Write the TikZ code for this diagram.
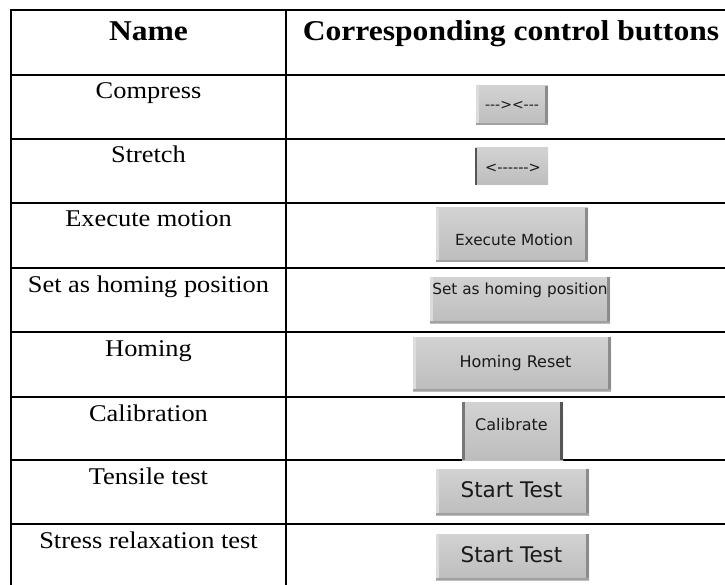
\documentclass[tikz,border=0pt]{standalone}
\usepackage{fontspec}
\setmainfont[FakeStretch=1.1]{Liberation Serif}
\newfontfamily\btnfont{DejaVu Sans}
\definecolor{btntop}{HTML}{D2D2D2}
\definecolor{btnbot}{HTML}{BDBDBD}
\definecolor{btnhi}{HTML}{DCDCDC}
\definecolor{btnsh}{HTML}{8C8C8C}
\definecolor{btnedge}{HTML}{555555}
\tikzset{
  rule/.style={line width=2.6pt, line cap=rect},
  head/.style={anchor=base, inner sep=0pt, font=\fontsize{28.7}{32}\selectfont\bfseries},
  cell/.style={anchor=base, inner sep=0pt, font=\fontsize{24}{28}\selectfont},
  btn/.style={rectangle, draw=none, inner sep=0pt, top color=btntop, bottom color=btnbot,
    path picture={
      \fill[btnhi] (path picture bounding box.north west) rectangle ([xshift=3pt]path picture bounding box.south west);
      \fill[btnsh] ([xshift=-3pt]path picture bounding box.north east) rectangle (path picture bounding box.south east);
      \fill[btnbot!85!black] ([yshift=2pt]path picture bounding box.south west) rectangle (path picture bounding box.south east);
    }},
  btnl/.style={rectangle, draw=none, inner sep=0pt, top color=btntop, bottom color=btnbot,
    path picture={
      \fill[btnedge] (path picture bounding box.north west) rectangle ([xshift=2pt]path picture bounding box.south west);
    }},
  btnlr/.style={rectangle, draw=none, inner sep=0pt, top color=btntop, bottom color=btnbot,
    path picture={
      \fill[btnedge!80] (path picture bounding box.north west) rectangle ([xshift=2.5pt]path picture bounding box.south west);
      \fill[btnedge] ([xshift=-3pt]path picture bounding box.north east) rectangle (path picture bounding box.south east);
    }},
  btext/.style={inner sep=0pt, text=black!90, font=\btnfont\fontsize{#1}{#1}\selectfont},
}
\begin{document}
\begin{tikzpicture}[x=1pt,y=-1pt]
\useasboundingbox (0,0) rectangle (725,585);
% grid coordinates
\coordinate (tl) at (11,10);
\coordinate (tr) at (725,10);
\coordinate (bl) at (11,585);
\coordinate (dt) at (286,10);
\coordinate (db) at (286,585);
\foreach \y/\n in {75/a,139/b,203/c,268/d,332/e,397/f,460/g,524/h}{
  \coordinate (l\n) at (11,\y);
  \coordinate (r\n) at (725,\y);
}
% rules
\draw[rule] (tl) -- (tr);
\draw[rule] (tl) -- (bl);
\draw[rule] (dt) -- (db);
\foreach \n in {a,b,c,d,e,f,g,h}{ \draw[rule] (l\n) -- (r\n); }
% header
\node[head] (hname) at (148.5,41) {Name};
\node[head] (hbtn) at (511,41) {Corresponding control buttons};
% names
\node[cell] (n1) at (148.5,99) {Compress};
\node[cell] (n2) at (148.5,163) {Stretch};
\node[cell] (n3) at (148.5,227) {Execute motion};
\node[cell] (n4) at (148.5,292) {Set as homing position};
\node[cell] (n5) at (148.5,356) {Homing};
\node[cell] (n6) at (148.5,421) {Calibration};
\node[cell] (n7) at (148.5,484) {Tensile test};
\node[cell] (n8) at (148.5,548) {Stress relaxation test};
% buttons
\node[btn, minimum width=72pt, minimum height=39pt] (b1) at (512,105.5) {};
\node[btext=14] (t1) at (512,105) {-{}-{}->{}<-{}-{}-};
\node[btnl, minimum width=73pt, minimum height=37pt] (b2) at (511.5,166.5) {};
\node[btext=14.5] (t2) at (513,168) {<-{}-{}-{}-{}-{}->};
\node[btn, minimum width=152pt, minimum height=54pt] (b3) at (512,235) {};
\node[btext=15.3] (t3) at (514,240) {Execute Motion};
\node[btn, minimum width=180pt, minimum height=46pt] (b4) at (520,300) {};
\node[btext=15.3] (t4) at (520,290) {Set as homing position};
\node[btn, minimum width=198pt, minimum height=54pt] (b5) at (512,364) {};
\node[btext=16] (t5) at (515.5,363) {Homing Reset};
\node[btnlr, minimum width=101pt, minimum height=58pt] (b6) at (512.5,431) {};
\node[btext=16] (t6) at (511.5,425) {Calibrate};
\node[btn, minimum width=153pt, minimum height=46pt] (b7) at (512.5,492) {};
\node[btext=21.5] (t7) at (511.5,490) {Start Test};
\node[btn, minimum width=153pt, minimum height=46pt] (b8) at (512.5,557) {};
\node[btext=21.5] (t8) at (511.5,555) {Start Test};
\end{tikzpicture}
\end{document}
